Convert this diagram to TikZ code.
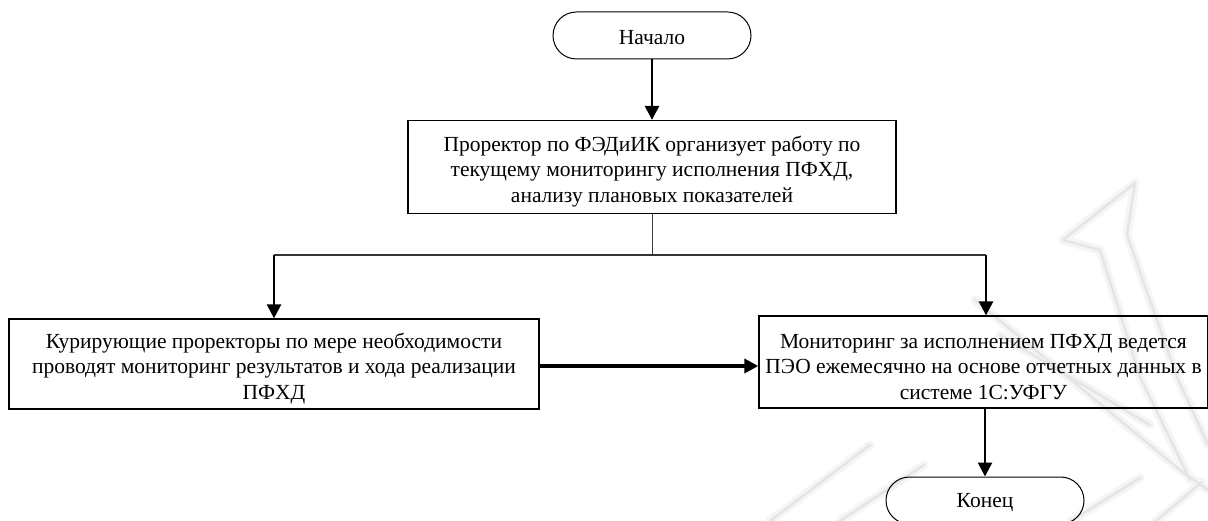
\documentclass[tikz,border=0pt]{standalone}
\usepackage{fontspec}
\setmainfont{Liberation Serif}
\usetikzlibrary{arrows.meta,calc}

% extra room above the first line, so text sits a little low in its box
\newcommand\firstgap{\rule{0pt}{24pt}}
\newcommand\termgap{\rule{0pt}{19pt}}

\tikzset{
  every node/.style={font=\fontsize{21.5}{25.5}\selectfont, align=center, inner sep=0pt},
  terminal/.style={draw, line width=1pt, rounded corners=23.5pt,
                   minimum width=198pt, minimum height=47pt},
  process/.style={draw, line width=1.3pt},
  arr/.style={line width=2.6pt, -{Triangle[length=14pt,width=14pt]}},
  feed/.style={line width=3.4pt, -{Triangle[length=14pt,width=14pt]}},
  link/.style={line width=1pt, draw=black!75},
  bus/.style={line width=1.8pt, draw=black!80},
  wmglow/.style={draw=gray!8, line width=9pt, line cap=round, line join=round},
  wmcore/.style={draw=gray!20, line width=2.5pt, line cap=round, line join=round},
}

\begin{document}
\begin{tikzpicture}[x=1pt, y=-1pt]
  \useasboundingbox (0,0) rectangle (1208,521);

  % faint background emblem
  \foreach \s in {wmglow, wmcore} {
    \draw[\s] (1063,240) -- (1135,183) -- (1127,235) -- (1177,377) -- (1208,445);
    \draw[\s] (1063,240) -- (1100,250) -- (1140,377) -- (1190,480);
    \draw[\s] (975,300) -- (1180,470) -- (1208,490);
    \draw[\s] (1000,335) -- (1150,425);
    \draw[\s] (770,521) -- (870,445);
    \draw[\s] (840,521) -- (924,465);
    \draw[\s] (1071,521) -- (1140,478);
    \draw[\s] (1156,521) -- (1202,482);
  }

  % blocks
  \node[terminal] (start) at (652,35.5) {\termgap Начало};
  \node[process, minimum width=488pt, minimum height=93pt] (b1) at (652,167)
    {\firstgap Проректор по ФЭДиИК организует работу по\\
     текущему мониторингу исполнения ПФХД,\\
     анализу плановых показателей};
  \node[process, minimum width=530pt, minimum height=90pt] (b2) at (274,364)
    {\firstgap Курирующие проректоры по мере необходимости\\
     проводят мониторинг результатов и хода реализации\\
     ПФХД};
  \node[process, minimum width=449pt, minimum height=92pt] (b3) at (983.5,362)
    {\firstgap Мониторинг за исполнением ПФХД ведется\\
     ПЭО ежемесячно на основе отчетных данных в\\
     системе 1С:УФГУ};
  \node[terminal] (end) at (985,500.5) {\termgap Конец};

  % branch points
  \coordinate (split) at (652,255);
  \coordinate (left) at (274,255);
  \coordinate (right) at (986,255);
  \coordinate (level) at (0,366);

  % connectors
  \draw[arr] (start) -- (b1);
  \draw[link] (b1.south) -- (split);
  \draw[bus] (left) -- (right);
  \draw[arr] (left) -- (b2.north);
  \draw[arr] (right) -- (right |- b3.north);
  \draw[feed] (b2.east |- level) -- (b3.west |- level);
  \draw[arr] (b3.south -| end.north) -- (end.north);
\end{tikzpicture}
\end{document}
